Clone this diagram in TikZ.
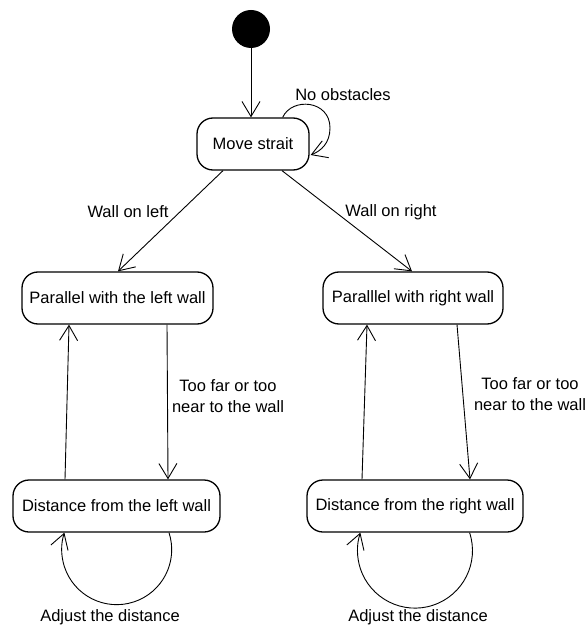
\documentclass[tikz,border=0pt]{standalone}
\usepackage{fontspec}
\setmainfont{Liberation Sans}
\usetikzlibrary{arrows.meta,calc}
\begin{document}
\begin{tikzpicture}[x=1pt,y=-1pt,
  font=\fontsize{16.5}{21}\selectfont,
  state/.style={draw,line width=1.3pt,rounded corners=16pt,minimum height=52pt,inner sep=0pt},
  conn/.style={line width=0.9pt,-{Straight Barb[length=15pt,width=18pt,line width=0.9pt]}},
  lbl/.style={inner sep=0pt,align=center}]
\useasboundingbox (0,0) rectangle (587,628);
\node[circle,fill=black,minimum size=38pt,inner sep=0pt] (init) at (251,29) {};
\node[state,minimum width=112pt] (ms) at (253,144) {Move strait};
\node[state,minimum width=191pt] (pl) at (117.5,298) {Parallel with the left wall};
\node[state,minimum width=180pt] (pr) at (413,298) {Paralllel with right wall};
\node[state,minimum width=207pt] (dl) at (116.5,506) {Distance from the left wall};
\node[state,minimum width=216pt] (dr) at (415,506) {Distance from the right wall};
% initial
\draw[conn] (init.south) -- (init.south |- ms.north);
% self loop on Move strait
\draw[conn] ($(ms.north east)+(-27,0)$) .. controls (292,97) and (330,100) .. (330,128)
   .. controls (330,143) and (321,151) .. ($(ms.east)+(1,11)$);
\node[lbl] (noobs) at (343,95) {No obstacles};
% to parallel states
\draw[conn] ($(ms.south)+(-30,0)$) -- ($(pl.north)+(0.5,0)$);
\draw[conn] ($(ms.south)+(29,0)$) -- ($(pr.north)+(-1,0)$);
\node[lbl] (wl) at (128,212) {Wall on left};
\node[lbl] (wr) at (391,212) {Wall on right};
% left column
\draw[conn] ($(pl.south)+(49.5,0)$) -- ($(dl.north)+(51.5,0)$);
\draw[conn] ($(dl.north)+(-51.5,0)$) -- ($(pl.south)+(-48.5,0)$);
\node[lbl] (tfl) at (228,396) {Too far or too\\near to the wall};
% right column
\draw[conn] ($(pr.south)+(44,0)$) -- ($(dr.north)+(55,0)$);
\draw[conn] ($(dr.north)+(-53,0)$) -- ($(pr.south)+(-46,0)$);
\node[lbl] (tfr) at (530,394) {Too far or too\\near to the wall};
% self loops
\draw[conn] ($(dl.south)+(52.5,0)$) arc[start angle=-18,end angle=198,radius=55];
\draw[conn] ($(dr.south)+(54.6,0)$) arc[start angle=-18.2,end angle=198.2,radius=57.5];
\node[lbl] (adl) at (110,617) {Adjust the distance};
\node[lbl] (adr) at (418,617) {Adjust the distance};
\end{tikzpicture}
\end{document}
